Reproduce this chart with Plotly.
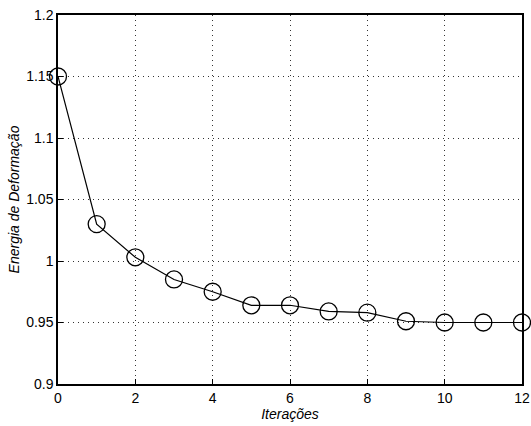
import plotly.graph_objects as go

iteracoes = [0, 1, 2, 3, 4, 5, 6, 7, 8, 9, 10, 11, 12]
energia = [1.15, 1.03, 1.003, 0.985, 0.975, 0.964, 0.964, 0.959, 0.958, 0.951, 0.950, 0.950, 0.950]

x_ticks = [0, 2, 4, 6, 8, 10, 12]
y_ticks = [0.9, 0.95, 1.0, 1.05, 1.1, 1.15, 1.2]
y_tick_text = ["0.9", "0.95", "1", "1.05", "1.1", "1.15", "1.2"]

fig = go.Figure()
fig.add_trace(go.Scatter(
    x=iteracoes, y=energia, mode="lines+markers",
    line=dict(color="black", width=1.2),
    marker=dict(symbol="circle-open", size=17, color="black", line=dict(width=1.3)),
    cliponaxis=False, showlegend=False, hoverinfo="skip",
))

axis_common = dict(
    showline=True, linecolor="black", linewidth=1.5, mirror=True,
    ticks="inside", ticklen=5, tickcolor="black",
    showgrid=True, gridcolor="#333", griddash="1px,4px", gridwidth=1,
    zeroline=False, ticklabeloverflow="allow", automargin=False,
    tickfont=dict(family="Liberation Sans, Arial", size=14, color="black"),
)

fig.update_layout(
    width=531, height=426,
    margin=dict(l=58, r=9, t=15, b=42),
    paper_bgcolor="white", plot_bgcolor="white",
    xaxis=dict(range=[0, 12], tickvals=x_ticks, ticklabelstandoff=0,
               title=dict(text="<i>Iterações</i>", standoff=0,
                          font=dict(family="Liberation Sans, Arial", size=14, color="black")),
               **axis_common),
    yaxis=dict(range=[0.9, 1.2], tickvals=y_ticks, ticktext=y_tick_text, ticklabelstandoff=0,
               title=dict(text="<i>Energia de Deformação</i>", standoff=3,
                          font=dict(family="Liberation Sans, Arial", size=14, color="black")),
               **axis_common),
)

fig.write_html("out.html", config={"displayModeBar": False})

with open("out.html", encoding="utf-8") as f:
    html = f.read()
html = html.replace("<body>", '<body style="margin:0;padding:0;overflow:hidden">', 1)
with open("out.html", "w", encoding="utf-8") as f:
    f.write(html)
